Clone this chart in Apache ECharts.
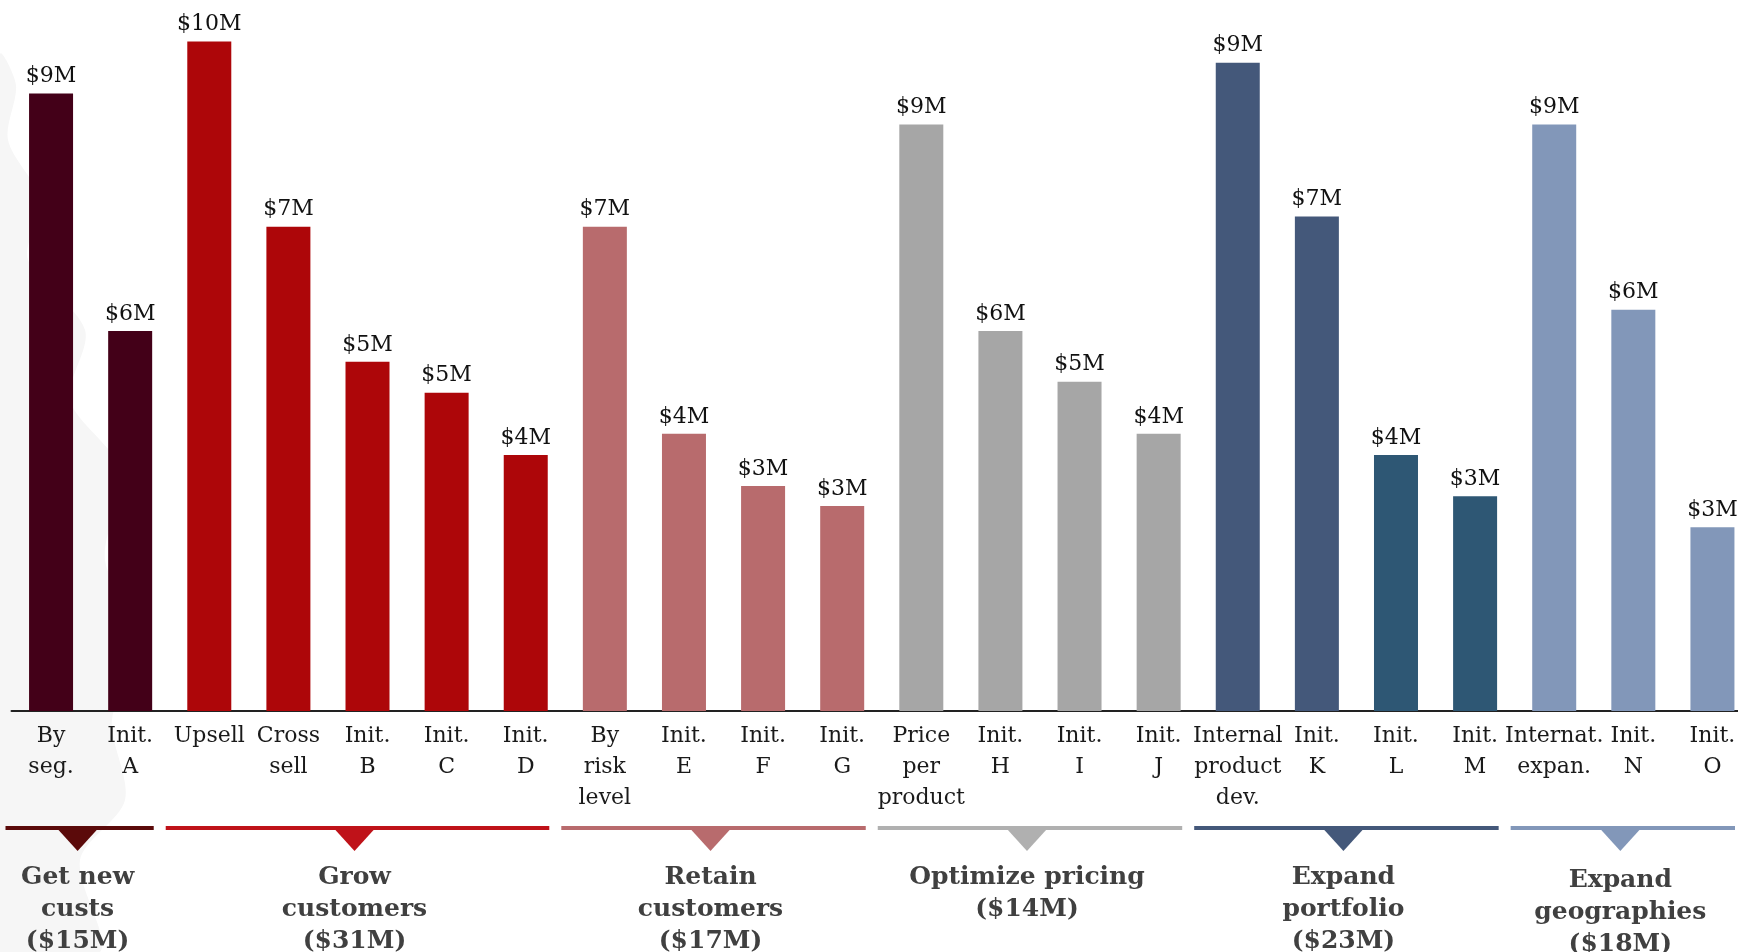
<!DOCTYPE html>
<html><head><meta charset="utf-8">
<script src="https://cdn.jsdelivr.net/npm/echarts@6/dist/echarts.min.js"></script>
<style>html,body{margin:0;padding:0;background:#fff;overflow:hidden}#c{width:1752px;height:952px}</style>
</head><body><div id="c"></div>
<script>
// ---- data ----
const categories = ['By\nseg.','Init.\nA','Upsell','Cross\nsell','Init.\nB','Init.\nC','Init.\nD',
  'By\nrisk\nlevel','Init.\nE','Init.\nF','Init.\nG',
  'Price\nper\nproduct','Init.\nH','Init.\nI','Init.\nJ',
  'Internal\nproduct\ndev.','Init.\nK','Init.\nL','Init.\nM',
  'Internat.\nexpan.','Init.\nN','Init.\nO'];
const values = [9.0,5.54,9.76,7.06,5.09,4.64,3.73,7.06,4.04,3.28,2.99,8.55,5.54,4.80,4.04,9.45,7.21,3.73,3.13,8.55,5.85,2.68];
const groupNames = ['Get new\ncusts\n($15M)','Grow\ncustomers\n($31M)','Retain\ncustomers\n($17M)',
  'Optimize pricing\n($14M)','Expand\nportfolio\n($23M)','Expand\ngeographies\n($18M)'];
const groupStart = [0,2,7,11,15,19];
const groupSize = [2,5,4,4,4,3];

// ---- styles ----
const groupColors = ['#430018','#ad0609','#b86b6d','#a6a6a6','#44587a','#8297b9'];
const lineColors = ['#5b0a0a','#bf1219','#b86b6d','#b0b0b0','#44587a','#8297b9'];
const altBars = [17,18], altColor = '#2e5774';
const FONT = "'DejaVu Serif', Georgia, serif";

function colorOf(i){
  if (altBars.indexOf(i) >= 0) return altColor;
  for (let g = groupStart.length-1; g >= 0; g--) if (i >= groupStart[g]) return groupColors[g];
}

const chart = echarts.init(document.getElementById('c'), null, {renderer:'canvas'});
chart.setOption({
  animation:false,
  backgroundColor:'#fff',
  grid:{left:11.5, right:0, top:25, bottom:241, containLabel:false},
  xAxis:{type:'category', data:categories,
    axisLine:{lineStyle:{color:'#222', width:2}}, axisTick:{show:false},
    axisLabel:{interval:0, color:'#1a1a1a', fontFamily:FONT, fontSize:22, lineHeight:31, margin:10, align:'center'}},
  yAxis:{type:'value', min:0, max:10, show:false, splitLine:{show:false}},
  series:[{type:'bar', barWidth:44, z:3,
    data: values.map((v,i)=>({value:v, itemStyle:{color:colorOf(i)}})),
    label:{show:true, position:'top', distance:6, color:'#111', fontFamily:FONT, fontSize:22,
      formatter:p=>'$'+Math.round(p.value)+'M'}}]
});

const px = i => chart.convertToPixel({xAxisIndex:0}, i);
const band = px(1) - px(0);
const graphics = [];
// faint background watermark on the left
graphics.push({type:'polygon', z:-10, silent:true, shape:{smooth:0.3, points:[[0,55],[16,85],[8,140],[40,200],[28,260],[85,330],[70,400],[120,470],[105,560],[140,640],[112,720],[125,800],[80,860],[100,952],[0,952]]},
  style:{fill:'#f6f6f6'}});
const nG = groupNames.length;
// boundaries between groups (slightly left of the category boundary)
const bounds = [];
for (let g = 1; g < nG; g++) bounds.push((px(groupStart[g]-1)+px(groupStart[g]))/2 - 10);
groupNames.forEach((name,g)=>{
  const a = px(groupStart[g]), b = px(groupStart[g]+groupSize[g]-1);
  const c = (a+b)/2 - 13;
  const x0 = g === 0 ? a - band/2 - 6 : bounds[g-1] + 6;
  const x1 = g === nG-1 ? Math.min(b + 24, 1735) : bounds[g] - 6;
  graphics.push({type:'rect', shape:{x:x0, y:826, width:x1-x0, height:4}, style:{fill:lineColors[g]}});
  graphics.push({type:'polygon', shape:{points:[[c-20,829],[c+20,829],[c,851]]}, style:{fill:lineColors[g]}});
  graphics.push({type:'text', x:c, y:861 + (g === nG-1 ? 3 : 0), style:{text:name, fill:'#404040', font:"bold 25px "+FONT,
    align:'center', verticalAlign:'top', lineHeight:32}});
});
chart.setOption({graphic:graphics});
</script></body></html>
